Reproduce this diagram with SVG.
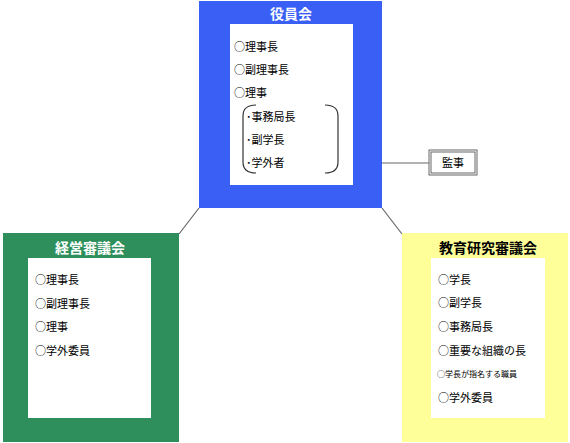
<svg xmlns="http://www.w3.org/2000/svg" width="570" height="443" viewBox="0 0 570 443">
<style>
text{font-family:"Noto Sans CJK JP","Noto Sans CJK SC",sans-serif;}
.t{font-size:14px;font-weight:bold;text-anchor:middle;}
.i{font-size:11px;fill:#000;}
.c{stroke:#666;stroke-width:1.2;fill:none;}
</style>
<rect width="570" height="443" fill="#fff"/>
<g id="connectors">
<line class="c" x1="199" y1="208" x2="179" y2="234"/>
<line class="c" x1="382" y1="208" x2="402" y2="234"/>
<line class="c" x1="382" y1="163" x2="429" y2="163"/>
</g>
<g id="board">
<rect x="199" y="1" width="183" height="207" fill="#3a5ff5"/>
<rect x="230" y="24" width="123" height="161" fill="#fff"/>
<text class="t" x="291" y="19" fill="#fff">役員会</text>
<text class="i" x="234" y="51">○理事長</text>
<text class="i" x="234" y="74">○副理事長</text>
<text class="i" x="234" y="97">○理事</text>
<text class="i" x="246" y="121">･事務局長</text>
<text class="i" x="246" y="144">･副学長</text>
<text class="i" x="246" y="167">･学外者</text>
<path d="M256,105 Q243,105 243,116 L243,162 Q243,173 256,173" fill="none" stroke="#333" stroke-width="1.2"/>
<path d="M325,105 Q338,105 338,116 L338,162 Q338,173 325,173" fill="none" stroke="#333" stroke-width="1.2"/>
</g>
<g id="auditor">
<rect x="429" y="150" width="48" height="25" fill="#fff" stroke="#666" stroke-width="1"/>
<rect x="431" y="152" width="44" height="21" fill="none" stroke="#666" stroke-width="1"/>
<text x="453" y="167" style="font-size:11px;text-anchor:middle">監事</text>
</g>
<g id="management">
<rect x="3" y="233" width="176" height="209" fill="#2e8f5c"/>
<rect x="28" y="258" width="123" height="160" fill="#fff"/>
<text class="t" x="90" y="253" fill="#fff">経営審議会</text>
<text class="i" x="35" y="284">○理事長</text>
<text class="i" x="35" y="308">○副理事長</text>
<text class="i" x="35" y="331">○理事</text>
<text class="i" x="35" y="355">○学外委員</text>
</g>
<g id="education">
<rect x="402" y="233" width="166" height="209" fill="#ffff99"/>
<rect x="431" y="258" width="114" height="160" fill="#fff"/>
<text class="t" x="488" y="253" fill="#000">教育研究審議会</text>
<text class="i" x="438" y="284">○学長</text>
<text class="i" x="438" y="307">○副学長</text>
<text class="i" x="438" y="331">○事務局長</text>
<text class="i" x="438" y="355">○重要な組織の長</text>
<text x="437" y="377" style="font-size:8px">○学長が指名する職員</text>
<text class="i" x="438" y="402">○学外委員</text>
</g>
</svg>
